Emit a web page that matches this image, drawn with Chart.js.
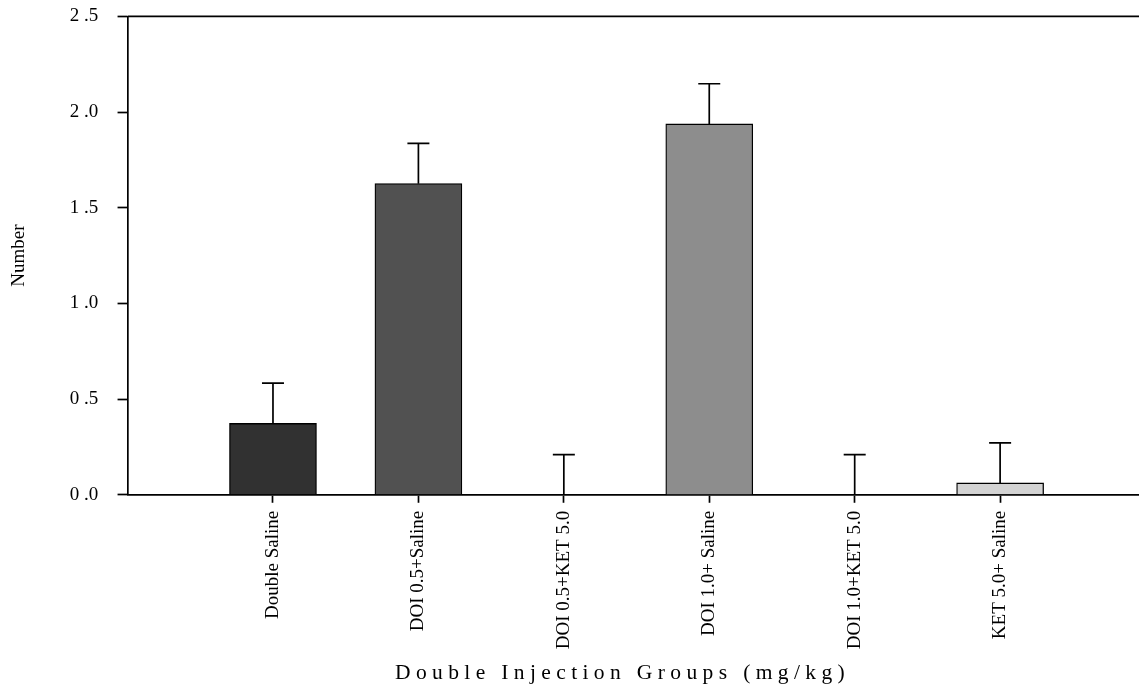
<!DOCTYPE html>
<html>
<head>
<meta charset="utf-8">
<script src="https://cdn.jsdelivr.net/npm/chart.js@4/dist/chart.umd.min.js"></script>
<style>
  html, body { margin: 0; padding: 0; background: #fff; }
  #wrap { width: 1139px; height: 690px; }
</style>
</head>
<body>
<div id="wrap"><canvas id="chart" width="1139" height="690"></canvas></div>
<script>
const groups = ['Double Saline', 'DOI 0.5+Saline', 'DOI 0.5+KET 5.0', 'DOI 1.0+ Saline', 'DOI 1.0+KET 5.0', 'KET 5.0+ Saline'];
const means = [0.373, 1.626, 0, 1.938, 0, 0.062];
const sems = [0.21, 0.21, 0.21, 0.21, 0.21, 0.209];
const barColors = ['#313131', '#515151', '#ffffff', '#8d8d8d', '#ffffff', '#d3d3d3'];
const yTicks = [0, 0.5, 1.0, 1.5, 2.0, 2.5];

const serif = "'Liberation Serif', 'Times New Roman', serif";

// upper whiskers only, plus the open top line of the frame
const errorBars = {
  id: 'errorBars',
  afterDatasetsDraw(chart) {
    const ctx = chart.ctx;
    const y = chart.scales.y;
    const meta = chart.getDatasetMeta(0);
    ctx.save();
    ctx.strokeStyle = '#000';
    ctx.lineWidth = 1.7;
    meta.data.forEach((bar, i) => {
      const y0 = y.getPixelForValue(means[i]);
      const y1 = y.getPixelForValue(means[i] + sems[i]);
      ctx.beginPath();
      ctx.moveTo(bar.x, y0);
      ctx.lineTo(bar.x, y1);
      ctx.moveTo(bar.x - 11, y1);
      ctx.lineTo(bar.x + 11, y1);
      ctx.stroke();
    });
    const top = y.getPixelForValue(2.5);
    ctx.beginPath();
    ctx.moveTo(chart.chartArea.left, top);
    ctx.lineTo(chart.width, top);
    ctx.stroke();
    ctx.restore();
  }
};

new Chart(document.getElementById('chart'), {
  type: 'bar',
  data: {
    datasets: [{
      data: means.map((v, i) => ({ x: i, y: v })),
      backgroundColor: barColors,
      borderColor: '#000',
      borderWidth: 1.3,
      borderSkipped: 'start',
      barThickness: 87
    }]
  },
  options: {
    responsive: false,
    animation: false,
    layout: { padding: { left: 8, top: 0, right: 0, bottom: 0 } },
    plugins: { legend: { display: false }, tooltip: { enabled: false } },
    scales: {
      x: {
        type: 'linear',
        min: -1.0,
        max: 5.955,
        offset: false,
        afterBuildTicks: (scale) => { scale.ticks = groups.map((g, i) => ({ value: i })); },
        grid: { offset: false, drawOnChartArea: false, tickLength: 8, tickColor: '#000', tickWidth: 1.7 },
        border: { display: true, color: '#000', width: 1.7 },
        ticks: {
          autoSkip: false,
          minRotation: 90,
          maxRotation: 90,
          padding: 8,
          color: '#000',
          font: { family: serif, size: 19 },
          callback: (v) => groups[v]
        },
        title: {
          display: true,
          text: 'D o u b l e   I n j e c t i o n   G r o u p s   ( m g / k g )     ',
          color: '#000',
          font: { family: serif, size: 21.5 },
          padding: { top: 3, bottom: 4 }
        }
      },
      y: {
        min: 0,
        max: 2.5,
        afterBuildTicks: (scale) => { scale.ticks = yTicks.map(v => ({ value: v })); },
        grid: { drawOnChartArea: false, tickLength: 10, tickColor: '#000', tickWidth: 1.7 },
        border: { display: true, color: '#000', width: 1.7 },
        ticks: {
          padding: 5,
          color: '#000',
          font: { family: serif, size: 19 },
          callback: (v) => { const s = v.toFixed(1); return s[0] + ' .' + s[2] + '   '; }
        },
        title: {
          display: true,
          text: 'Number',
          color: '#000',
          font: { family: serif, size: 19 },
          padding: { top: 0, bottom: 34 }
        }
      }
    }
  },
  plugins: [errorBars]
});
</script>
</body>
</html>
